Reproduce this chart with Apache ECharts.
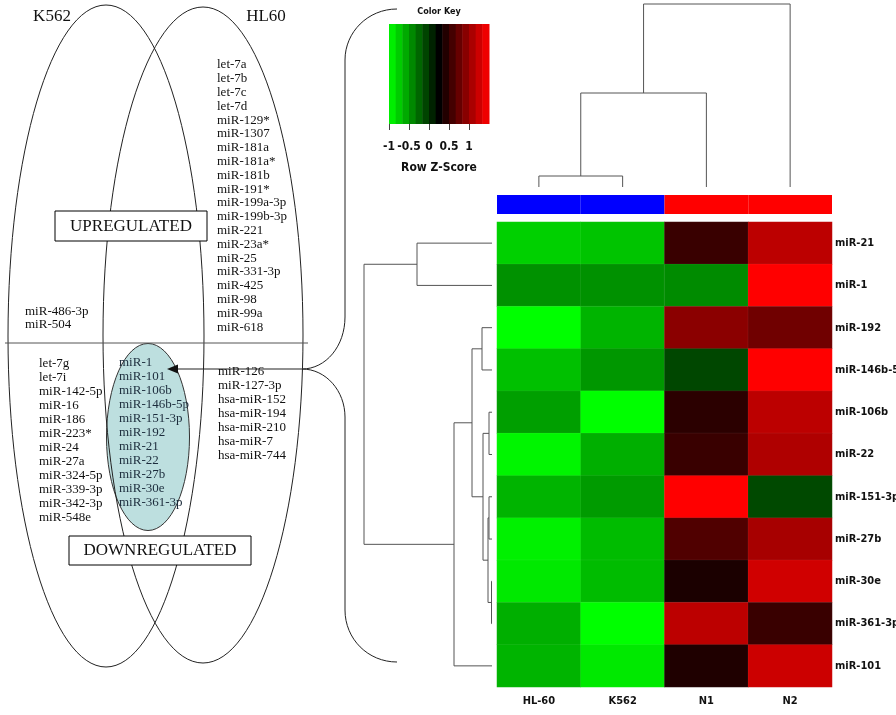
<!DOCTYPE html>
<html><head><meta charset="utf-8">
<script src="https://cdn.jsdelivr.net/npm/echarts@6/dist/echarts.min.js"></script>
<style>html,body{margin:0;padding:0;background:#fff}#c{width:896px;height:715px}</style>
</head><body><div id="c"></div>
<script>
// ---------- heatmap data ----------
const samples = ['HL-60', 'K562', 'N1', 'N2'];
const sampleGroup = ['leukemia', 'leukemia', 'normal', 'normal'];
const groupColors = { leukemia: '#0000ff', normal: '#ff0000' };
const genes = ['miR-21', 'miR-1', 'miR-192', 'miR-146b-5p', 'miR-106b', 'miR-22', 'miR-151-3p', 'miR-27b', 'miR-30e', 'miR-361-3p', 'miR-101'];
const zHL60 = [-0.77, -0.46, -1.00, -0.69, -0.53, -0.95, -0.63, -0.93, -0.89, -0.61, -0.63];
const zK562 = [-0.71, -0.46, -0.63, -0.49, -1.00, -0.61, -0.51, -0.67, -0.67, -1.00, -0.89];
const zN1   = [0.53, -0.43, 0.93, -0.10, 0.46, 0.53, 1.50, 0.64, 0.38, 1.17, 0.40];
const zN2   = [1.17, 1.50, 0.80, 1.50, 1.17, 1.11, -0.11, 1.07, 1.27, 0.53, 1.25];

// hclust-style merges (negative = leaf, 1-based; positive = earlier merge, 1-based)
const rowMerge = [[-9, -10], [-5, -6], [-7, -8], [3, 1], [2, 4], [-3, -4], [6, 5], [7, -11], [-1, -2], [9, 8]];
const rowMergeHeight = [0.5, 3, 3, 4, 9, 10, 20, 38, 75, 128];
const colMerge = [[-1, -2], [1, -3], [2, -4]];
const colMergeHeight = [11, 94, 183];

// colour key
const keyBreaks = [-1, -0.833, -0.667, -0.5, -0.333, -0.167, 0, 0.167, 0.333, 0.5, 0.667, 0.833, 1, 1.167, 1.333, 1.5];
const keyTicks = [-1, -0.5, 0, 0.5, 1];

// ---------- Venn texts ----------
const upHL60 = ['let-7a', 'let-7b', 'let-7c', 'let-7d', 'miR-129*', 'miR-1307', 'miR-181a', 'miR-181a*', 'miR-181b', 'miR-191*', 'miR-199a-3p', 'miR-199b-3p', 'miR-221', 'miR-23a*', 'miR-25', 'miR-331-3p', 'miR-425', 'miR-98', 'miR-99a', 'miR-618'];
const upK562 = ['miR-486-3p', 'miR-504'];
const downK562 = ['let-7g', 'let-7i', 'miR-142-5p', 'miR-16', 'miR-186', 'miR-223*', 'miR-24', 'miR-27a', 'miR-324-5p', 'miR-339-3p', 'miR-342-3p', 'miR-548e'];
const downBoth = ['miR-1', 'miR-101', 'miR-106b', 'miR-146b-5p', 'miR-151-3p', 'miR-192', 'miR-21', 'miR-22', 'miR-27b', 'miR-30e', 'miR-361-3p'];
const downHL60 = ['miR-126', 'miR-127-3p', 'hsa-miR-152', 'hsa-miR-194', 'hsa-miR-210', 'hsa-miR-7', 'hsa-miR-744'];

// ---------- build ----------
const zCols = [zHL60, zK562, zN1, zN2];
const heatData = [];
zCols.forEach((col, c) => col.forEach((v, r) => heatData.push([c, r, v])));

function dendro(merge, heights) {
  const pos = [], hs = [], segs = [];
  const P = k => k < 0 ? (-k - 1) : pos[k - 1];
  const H = k => k < 0 ? 0 : hs[k - 1];
  merge.forEach((m, i) => {
    const a = m[0], b = m[1], h = heights[i];
    const pa = P(a), pb = P(b);
    pos[i] = (pa + pb) / 2; hs[i] = h;
    segs.push([[H(a), pa], [h, pa], [h, pb], [H(b), pb]]);
  });
  return segs;
}
const rowSegs = dendro(rowMerge, rowMergeHeight);
const colSegs = dendro(colMerge, colMergeHeight).map(s => s.map(p => [p[1], p[0]]));

const keyBands = [];
for (let i = 0; i < keyBreaks.length - 1; i++) keyBands.push([keyBreaks[i], keyBreaks[i + 1], (keyBreaks[i] + keyBreaks[i + 1]) / 2]);

const LBL = '"DejaVu Sans Condensed", "DejaVu Sans", sans-serif';
const SERIF = '"Liberation Serif", "Times New Roman", serif';

function textList(list, x, y0, dy, color) {
  return list.map((t, i) => ({
    type: 'text', x: x, y: y0 + i * dy,
    style: { text: t, font: '13px ' + SERIF, fill: color || '#111', verticalAlign: 'middle', textVerticalAlign: 'middle' }
  }));
}
function centered(t, x, y, font) {
  return { type: 'text', x: x, y: y, style: { text: t, font: font, fill: '#111', align: 'center', textAlign: 'center', verticalAlign: 'middle', textVerticalAlign: 'middle' } };
}

const venn = [
  { type: 'ellipse', shape: { cx: 148, cy: 437, rx: 41.5, ry: 93.5 }, style: { fill: '#bddfdf', stroke: '#333', lineWidth: 1 } },
  { type: 'ellipse', shape: { cx: 106, cy: 336, rx: 98, ry: 331 }, style: { fill: null, stroke: '#222', lineWidth: 1 } },
  { type: 'ellipse', shape: { cx: 203, cy: 335, rx: 100, ry: 328 }, style: { fill: null, stroke: '#222', lineWidth: 1 } },
  { type: 'line', shape: { x1: 5, y1: 343, x2: 308, y2: 343 }, style: { stroke: '#555', lineWidth: 1 } },
  { type: 'rect', shape: { x: 55, y: 211, width: 152, height: 30 }, style: { fill: '#fff', stroke: '#000', lineWidth: 1 } },
  { type: 'rect', shape: { x: 69, y: 536, width: 182, height: 29 }, style: { fill: '#fff', stroke: '#000', lineWidth: 1 } },
  centered('UPREGULATED', 131, 227, '17px ' + SERIF),
  centered('DOWNREGULATED', 160, 551, '17px ' + SERIF),
  centered('K562', 52, 17, '17px ' + SERIF),
  centered('HL60', 266, 17, '17px ' + SERIF),
  // bracket
  { type: 'bezierCurve', shape: { x1: 397, y1: 9, cpx1: 368, cpy1: 9, cpx2: 345, cpy2: 32, x2: 345, y2: 60 }, style: { stroke: '#222', fill: null, lineWidth: 1 } },
  { type: 'line', shape: { x1: 345, y1: 60, x2: 345, y2: 317 }, style: { stroke: '#222', lineWidth: 1 } },
  { type: 'bezierCurve', shape: { x1: 345, y1: 317, cpx1: 345, cpy1: 346, cpx2: 326, cpy2: 369, x2: 302, y2: 369 }, style: { stroke: '#222', fill: null, lineWidth: 1 } },
  { type: 'bezierCurve', shape: { x1: 302, y1: 369, cpx1: 326, cpy1: 369, cpx2: 345, cpy2: 391, x2: 345, y2: 417 }, style: { stroke: '#222', fill: null, lineWidth: 1 } },
  { type: 'line', shape: { x1: 345, y1: 417, x2: 345, y2: 610 }, style: { stroke: '#222', lineWidth: 1 } },
  { type: 'bezierCurve', shape: { x1: 345, y1: 610, cpx1: 345, cpy1: 639, cpx2: 368, cpy2: 662, x2: 397, y2: 662 }, style: { stroke: '#222', fill: null, lineWidth: 1 } },
  // arrow
  { type: 'line', shape: { x1: 302, y1: 369, x2: 176, y2: 369 }, style: { stroke: '#222', lineWidth: 1.2 } },
  { type: 'polygon', shape: { points: [[167, 369], [178, 364.5], [178, 373.5]] }, style: { fill: '#111' } },
  // colour key captions
  centered('Color Key', 439, 12, 'bold 9px ' + LBL),
  centered('Row Z-Score', 439, 168, 'bold 12px ' + LBL)
]
.concat(textList(upHL60, 217, 65, 13.8))
.concat(textList(upK562, 25, 312, 13))
.concat(textList(downK562, 39, 364, 14))
.concat(textList(downBoth, 119, 363, 14, '#1c2c3c'))
.concat(textList(downHL60, 218, 372, 14));

const chart = echarts.init(document.getElementById('c'), null, { renderer: 'canvas' });
const hidden = { show: false };
const g = o => Object.assign({ containLabel: false, outerBoundsMode: 'none' }, o);
chart.setOption({
  animation: false,
  backgroundColor: '#fff',
  grid: [
    g({ left: 497, top: 222, width: 335, height: 465 }),
    g({ left: 497, top: 195, width: 335, height: 19 }),
    g({ left: 497, top: 4, width: 335, height: 183 }),
    g({ left: 360, top: 222, width: 132, height: 465 }),
    g({ left: 389, top: 24, width: 100, height: 100 })
  ],
  xAxis: [
    { type: 'category', gridIndex: 0, data: samples, position: 'bottom', axisLine: hidden, axisTick: hidden, splitLine: hidden,
      axisLabel: { margin: 9, color: '#111', fontWeight: 'bold', fontSize: 11, fontFamily: LBL } },
    { type: 'category', gridIndex: 1, data: samples, show: false },
    { type: 'value', gridIndex: 2, min: -0.5, max: 3.5, show: false },
    { type: 'value', gridIndex: 3, min: 0, max: 132, inverse: true, show: false },
    { type: 'value', gridIndex: 4, min: -1, max: 1.5, interval: 0.5, splitLine: hidden,
      axisLine: hidden,
      axisTick: { show: true, length: 6, lineStyle: { color: '#444' }, customValues: keyTicks },
      axisLabel: { margin: 17, color: '#111', fontWeight: 'bold', fontSize: 12, fontFamily: LBL, customValues: keyTicks } }
  ],
  yAxis: [
    { type: 'category', gridIndex: 0, data: genes, inverse: true, position: 'right', axisLine: hidden, axisTick: hidden, splitLine: hidden,
      axisLabel: { margin: 3, color: '#111', fontWeight: 'bold', fontSize: 11, fontFamily: LBL } },
    { type: 'value', gridIndex: 1, min: 0, max: 1, show: false },
    { type: 'value', gridIndex: 2, min: 0, max: 183, show: false },
    { type: 'value', gridIndex: 3, min: -0.5, max: 10.5, inverse: true, show: false },
    { type: 'value', gridIndex: 4, min: 0, max: 1, show: false }
  ],
  visualMap: [{
    type: 'continuous', show: false, min: -1, max: 1.5, dimension: 2, seriesIndex: [0, 4],
    inRange: { color: ['#00ff00', '#000000', '#ff0000'] }
  }],
  series: [
    { type: 'heatmap', xAxisIndex: 0, yAxisIndex: 0, data: heatData,
      itemStyle: { borderColor: 'rgba(255,255,255,0.12)', borderWidth: 0.5 }, emphasis: { disabled: true } },
    { type: 'bar', xAxisIndex: 1, yAxisIndex: 1, barWidth: '100%', silent: true,
      data: samples.map((s, i) => ({ value: 1, itemStyle: { color: groupColors[sampleGroup[i]] } })) },
    { type: 'lines', coordinateSystem: 'cartesian2d', xAxisIndex: 2, yAxisIndex: 2, polyline: true, silent: true, clip: false,
      lineStyle: { color: '#555', width: 1, opacity: 1 }, data: colSegs.map(c => ({ coords: c })) },
    { type: 'lines', coordinateSystem: 'cartesian2d', xAxisIndex: 3, yAxisIndex: 3, polyline: true, silent: true, clip: false,
      lineStyle: { color: '#555', width: 1, opacity: 1 }, data: rowSegs.map(c => ({ coords: c })) },
    { type: 'custom', xAxisIndex: 4, yAxisIndex: 4, silent: true, data: keyBands,
      renderItem: function (params, api) {
        const s = api.coord([api.value(0), 1]);
        const e = api.coord([api.value(1), 0]);
        return { type: 'rect', shape: { x: s[0], y: s[1], width: e[0] - s[0] + 0.5, height: e[1] - s[1] }, style: { fill: api.visual('color') } };
      } }
  ],
  graphic: { elements: venn }
});
</script>
</body></html>
